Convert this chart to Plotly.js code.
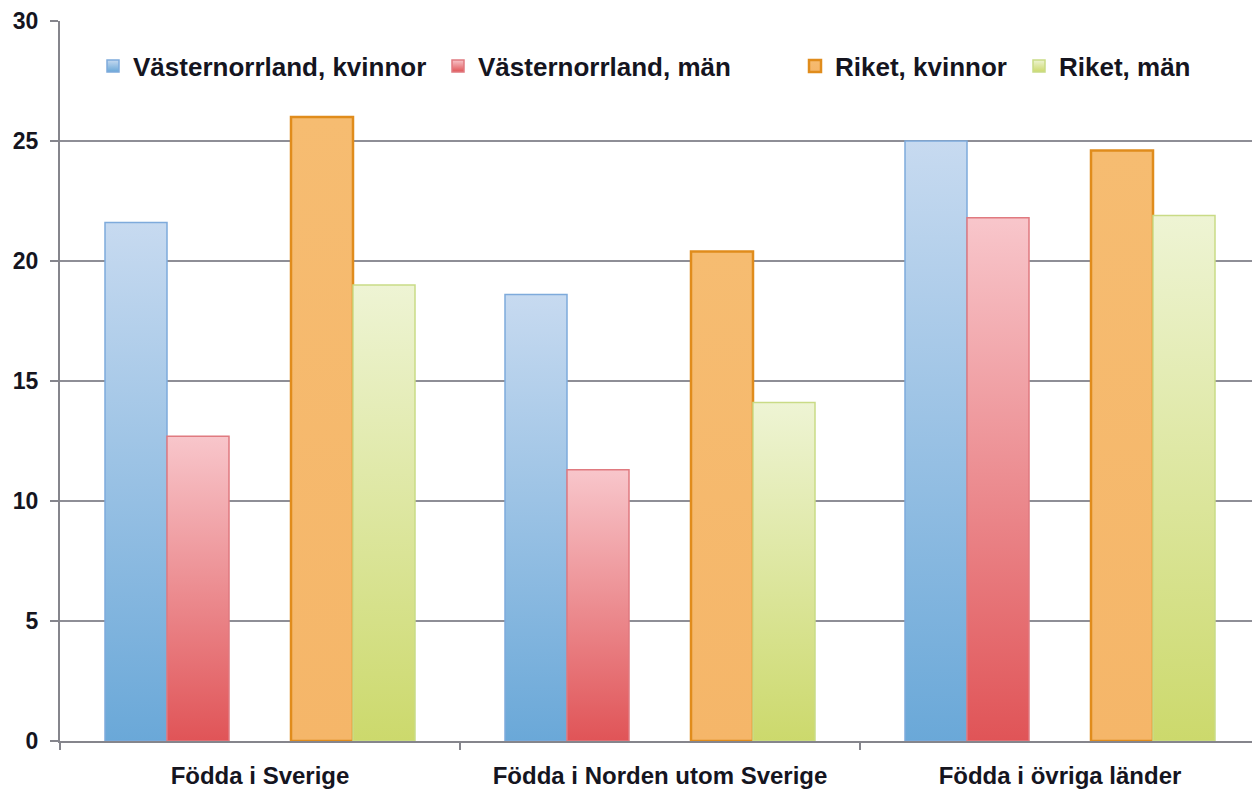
<!DOCTYPE html>
<html>
<head>
<meta charset="utf-8">
<script src="https://cdn.plot.ly/plotly-3.0.1.min.js"></script>
<style>
html,body{margin:0;padding:0;background:#fff;}
#chart{width:1252px;height:791px;}
</style>
</head>
<body>
<div id="chart"></div>
<script>
// ---- data ----
const categories = ["Födda i Sverige", "Födda i Norden utom Sverige", "Födda i övriga länder"];
const seriesNames = ["Västernorrland, kvinnor", "Västernorrland, män", "Riket, kvinnor", "Riket, män"];
const vnKvinnor = [21.6, 18.6, 25.0];
const vnMan = [12.7, 11.3, 21.8];
const riketKvinnor = [26.0, 20.4, 24.6];
const riketMan = [19.0, 14.1, 21.9];
const yTicks = [0, 5, 10, 15, 20, 25, 30];

// ---- styles ----
const fills = ["#97bfe6", "#ee9aa0", "#f5b96c", "#dfe9ad"];
const outlines = ["#7eaadb", "#e07a80", "#e08c1c", "#c9db86"];
const outlineW = [1.5, 1.5, 2.5, 1.5];
const gradStops = [
  ["#c7daf0", "#6aa8d8"],
  ["#f8c6cb", "#e05457"],
  ["#f6bc71", "#f5b669"],
  ["#eef4d4", "#ccd96c"]
];
const legendTextX = [133, 478, 835, 1059];
const legendIds = ["legend", "legend2", "legend3", "legend4"];
const W = 1252, H = 791;
const font = {family: "Liberation Sans, Arial, sans-serif", color: "#15151f", size: 23, weight: 700};

const values = [vnKvinnor, vnMan, riketKvinnor, riketMan];
const traces = [];
for (let i = 0; i < 4; i++) {
  traces.push({
    type: "bar", x: categories, y: values[i], name: seriesNames[i],
    marker: {color: fills[i], line: {color: outlines[i], width: outlineW[i]}},
    legend: legendIds[i], hoverinfo: "x+y+name"
  });
  if (i === 1) {
    // empty slot between Västernorrland and Riket
    traces.push({type: "bar", x: categories, y: [null, null, null], showlegend: false, hoverinfo: "skip", marker: {color: "rgba(0,0,0,0)"}});
  }
}

const layout = {
  width: W, height: H,
  margin: {l: 60, r: 0, t: 21, b: 50, autoexpand: false},
  paper_bgcolor: "#fff", plot_bgcolor: "#fff",
  barmode: "group", bargap: 0.225, bargroupgap: 0,
  font: font,
  xaxis: {
    type: "category", range: [-0.5, 2.48],
    showline: true, linecolor: "#85858c", linewidth: 2,
    ticks: "outside", tickson: "boundaries", ticklen: 7, tickwidth: 2, tickcolor: "#85858c",
    tickfont: {family: font.family, size: 24, color: "#15151f", weight: 700},
    ticklabelstandoff: 12,
    showgrid: false, zeroline: false, fixedrange: true
  },
  yaxis: {
    range: [0, 30], tickvals: yTicks, ticktext: yTicks.map(String),
    showline: true, linecolor: "#85858c", linewidth: 2,
    ticks: "outside", ticklen: 8, tickwidth: 2, tickcolor: "#85858c",
    showgrid: true, gridcolor: "#8e8e96", gridwidth: 2,
    zeroline: false,
    tickfont: {family: font.family, size: 23, color: "#15151f", weight: 700},
    ticklabelstandoff: 7, fixedrange: true
  },
  showlegend: true
};
for (let i = 0; i < 4; i++) {
  layout[legendIds[i]] = {
    xref: "container", yref: "container",
    x: (legendTextX[i] - 40) / W, xanchor: "left",
    y: 1 - 66 / H, yanchor: "middle",
    orientation: "h", bgcolor: "rgba(0,0,0,0)", borderwidth: 0,
    font: {family: font.family, size: 26, color: "#15151f", weight: 700}
  };
}

function applyGradients(gd) {
  const svg = gd.querySelector("svg.main-svg");
  if (!svg) return;
  let defs = svg.querySelector("defs");
  const ns = "http://www.w3.org/2000/svg";
  for (let i = 0; i < 4; i++) {
    const id = "barGrad" + i;
    if (!svg.querySelector("#" + id)) {
      const lg = document.createElementNS(ns, "linearGradient");
      lg.setAttribute("id", id);
      lg.setAttribute("x1", "0"); lg.setAttribute("y1", "0");
      lg.setAttribute("x2", "0"); lg.setAttribute("y2", "1");
      gradStops[i].forEach((c, k) => {
        const s = document.createElementNS(ns, "stop");
        s.setAttribute("offset", k === 0 ? "0" : "1");
        s.setAttribute("stop-color", c);
        lg.appendChild(s);
      });
      defs.appendChild(lg);
    }
  }
  const barTraces = gd.querySelectorAll(".barlayer .trace.bars");
  const map = [0, 1, -1, 2, 3];
  barTraces.forEach((t, idx) => {
    const si = map[idx];
    if (si === undefined || si < 0) return;
    t.querySelectorAll(".point path").forEach(p => { p.style.fill = "url(#barGrad" + si + ")"; });
  });
  legendIds.forEach((lid, i) => {
    gd.querySelectorAll("g." + lid + " .legendpoints path").forEach(p => { p.style.fill = "url(#barGrad" + i + ")"; });
  });
}

const gd = document.getElementById("chart");
Plotly.newPlot(gd, traces, layout, {displayModeBar: false, responsive: false, staticPlot: false}).then(() => {
  applyGradients(gd);
  gd.on("plotly_afterplot", () => applyGradients(gd));
});
</script>
</body>
</html>
